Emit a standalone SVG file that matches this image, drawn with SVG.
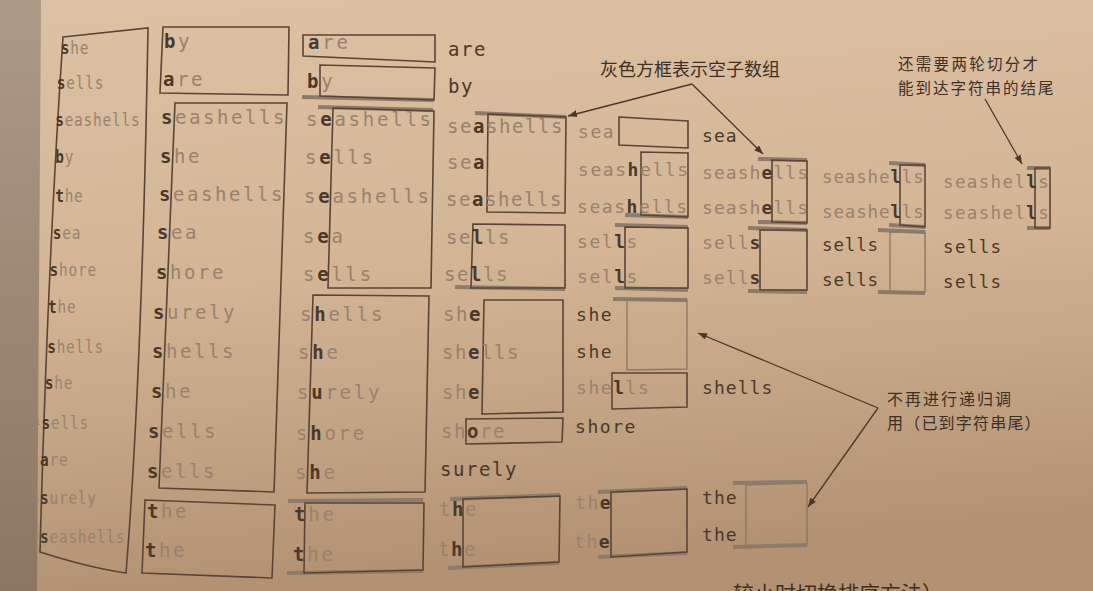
<svg xmlns="http://www.w3.org/2000/svg" width="1093" height="591" viewBox="0 0 1093 591">
<defs>
<linearGradient id="paper" x1="0" y1="0" x2="0.15" y2="1">
<stop offset="0" stop-color="#dcc2a4"/>
<stop offset="0.5" stop-color="#d3b595"/>
<stop offset="1" stop-color="#b29272"/>
</linearGradient>
<linearGradient id="gutter" x1="0" y1="0" x2="0" y2="1">
<stop offset="0" stop-color="#ad9a86"/>
<stop offset="1" stop-color="#8c7662"/>
</linearGradient>
<marker id="ah" markerUnits="userSpaceOnUse" markerWidth="9" markerHeight="7" refX="9" refY="3.5" orient="auto">
<path d="M0,0 L9,3.5 L0,7 z" fill="#4a392b"/>
</marker>
<style>
.t{font-family:"DejaVu Sans Mono","Liberation Mono",monospace;fill:#98826e}
.b{font-weight:bold;fill:#4a392b}
.dk{fill:#4a392b}
.c0{font-size:18px;letter-spacing:1px}
.c1{font-size:19px;letter-spacing:2.56px}
.c2{font-size:19px;letter-spacing:2.76px}
.c3{font-size:19px;letter-spacing:1.56px}
.c4{font-size:18px;letter-spacing:1.56px}
.c5{font-size:18px;letter-spacing:1.06px}
.c6{font-size:17.5px;letter-spacing:0.86px}
.c7{font-size:17.5px;letter-spacing:1.36px}
.box{fill:none;stroke:#5a4535;stroke-width:1.6}
.lbox{fill:none;stroke:#8e7967;stroke-width:1.4}
.bar{stroke:#8d7b6b;stroke-width:4;fill:none}
.note{font-family:"Noto Sans CJK SC","Noto Sans",sans-serif;fill:#3e3025}
.conn{fill:none;stroke:#4a392b;stroke-width:1.3}
</style>
</defs>
<rect x="0" y="0" width="1093" height="591" fill="url(#paper)"/>
<polygon points="0,0 41,0 37,591 0,591" fill="url(#gutter)"/>

<g id="col0">
<path class="box" d="M63,37 L148,28 C145,200 140,400 126,573 C98,569 68,561 40,552 C44,400 52,200 63,37 Z"/>
<g transform="scale(0.8,1)">
<text class="t c0" x="76" y="54"><tspan class="b">s</tspan>he</text>
<text class="t c0" x="71" y="89"><tspan class="b">s</tspan>ells</text>
<text class="t c0" x="69" y="126"><tspan class="b">s</tspan>eashells</text>
<text class="t c0" x="69" y="163"><tspan class="b">b</tspan>y</text>
<text class="t c0" x="69" y="202"><tspan class="b">t</tspan>he</text>
<text class="t c0" x="66" y="239"><tspan class="b">s</tspan>ea</text>
<text class="t c0" x="62" y="276"><tspan class="b">s</tspan>hore</text>
<text class="t c0" x="60" y="313"><tspan class="b">t</tspan>he</text>
<text class="t c0" x="59" y="353"><tspan class="b">s</tspan>hells</text>
<text class="t c0" x="56" y="389"><tspan class="b">s</tspan>he</text>
<text class="t c0" x="52" y="429"><tspan class="b">s</tspan>ells</text>
<text class="t c0" x="50" y="466"><tspan class="b">a</tspan>re</text>
<text class="t c0" x="50" y="504"><tspan class="b">s</tspan>urely</text>
<text class="t c0" x="50" y="543"><tspan class="b">s</tspan>eashells</text>
</g>
<text class="t" x="35" y="425" font-size="9">1</text>
<text class="t" x="34" y="462" font-size="9">1</text>
<text class="t" x="34" y="500" font-size="9">1</text>
<text class="t" x="34" y="538" font-size="9">1</text>
</g>

<g id="col1">
<polygon class="box" points="163,27 289,27 288,95 160,93"/>
<polygon class="box" points="175,103 287,103 274,492 159,488"/>
<polygon class="box" points="145,500 275,505 272,578 142,573"/>
<text class="t c1" x="164" y="48"><tspan class="b">b</tspan>y</text>
<text class="t c1" x="163" y="86"><tspan class="b">a</tspan>re</text>
<text class="t c1" x="161" y="124"><tspan class="b">s</tspan>eashells</text>
<text class="t c1" x="160" y="163"><tspan class="b">s</tspan>he</text>
<text class="t c1" x="159" y="201"><tspan class="b">s</tspan>eashells</text>
<text class="t c1" x="157" y="239"><tspan class="b">s</tspan>ea</text>
<text class="t c1" x="156" y="279"><tspan class="b">s</tspan>hore</text>
<text class="t c1" x="153" y="319"><tspan class="b">s</tspan>urely</text>
<text class="t c1" x="152" y="358"><tspan class="b">s</tspan>hells</text>
<text class="t c1" x="151" y="398"><tspan class="b">s</tspan>he</text>
<text class="t c1" x="148" y="438"><tspan class="b">s</tspan>ells</text>
<text class="t c1" x="147" y="478"><tspan class="b">s</tspan>ells</text>
<text class="t c1" x="147" y="518"><tspan class="b">t</tspan>he</text>
<text class="t c1" x="145" y="557"><tspan class="b">t</tspan>he</text>
</g>

<g id="col2">
<line class="bar" x1="302" y1="97" x2="434" y2="100"/>
<line class="bar" x1="318" y1="107" x2="433" y2="110"/>
<line class="bar" x1="288" y1="501" x2="423" y2="500"/>
<line class="bar" x1="287" y1="573" x2="423" y2="571"/>
<polygon class="box" points="303,35 435,35 435,62 303,56"/>
<polygon class="box" points="320,65 435,68 434,100 320,96"/>
<polygon class="box" points="333,108 434,111 431,288 328,288"/>
<polygon class="box" points="313,295 429,296 425,492 307,493"/>
<polygon class="box" points="305,503 424,503 423,570 304,573"/>
<text class="t c2" x="308" y="49"><tspan class="b">a</tspan>re</text>
<text class="t c2" x="307" y="88"><tspan class="b">b</tspan>y</text>
<text class="t c2" x="306" y="126">s<tspan class="b">e</tspan>ashells</text>
<text class="t c2" x="305" y="164">s<tspan class="b">e</tspan>lls</text>
<text class="t c2" x="304" y="203">s<tspan class="b">e</tspan>ashells</text>
<text class="t c2" x="303" y="243">s<tspan class="b">e</tspan>a</text>
<text class="t c2" x="303" y="281">s<tspan class="b">e</tspan>lls</text>
<text class="t c2" x="300" y="321">s<tspan class="b">h</tspan>ells</text>
<text class="t c2" x="298" y="359">s<tspan class="b">h</tspan>e</text>
<text class="t c2" x="297" y="399">s<tspan class="b">u</tspan>rely</text>
<text class="t c2" x="296" y="440">s<tspan class="b">h</tspan>ore</text>
<text class="t c2" x="295" y="479">s<tspan class="b">h</tspan>e</text>
<text class="t c2" x="294" y="521"><tspan class="b">t</tspan>he</text>
<text class="t c2" x="293" y="561"><tspan class="b">t</tspan>he</text>
</g>

<g id="col3">
<line class="bar" x1="475" y1="113" x2="566" y2="117"/>
<line class="bar" x1="455" y1="287" x2="565" y2="289"/>
<line class="bar" x1="450" y1="499" x2="560" y2="495"/>
<line class="bar" x1="448" y1="568" x2="559" y2="563"/>
<polygon class="box" points="488,114 566,117 565,213 487,212"/>
<polygon class="box" points="473,224 565,225 565,288 471,288"/>
<polygon class="box" points="484,300 563,300 563,412 482,414"/>
<polygon class="box" points="466,419 563,418 562,442 466,444"/>
<polygon class="box" points="463,499 560,496 559,562 463,567"/>
<text class="t c3 dk" x="448" y="56">are</text>
<text class="t c3 dk" x="448" y="93">by</text>
<text class="t c3" x="447" y="133">se<tspan class="b">a</tspan>shells</text>
<text class="t c3" x="447" y="169">se<tspan class="b">a</tspan></text>
<text class="t c3" x="446" y="206">se<tspan class="b">a</tspan>shells</text>
<text class="t c3" x="446" y="244">se<tspan class="b">l</tspan>ls</text>
<text class="t c3" x="444" y="281">se<tspan class="b">l</tspan>ls</text>
<text class="t c3" x="443" y="321">sh<tspan class="b">e</tspan></text>
<text class="t c3" x="442" y="359">sh<tspan class="b">e</tspan>lls</text>
<text class="t c3" x="442" y="399">sh<tspan class="b">e</tspan></text>
<text class="t c3" x="441" y="438">sh<tspan class="b">o</tspan>re</text>
<text class="t c3 dk" x="440" y="476">surely</text>
<text class="t c3" x="439" y="516">t<tspan class="b">h</tspan>e</text>
<text class="t c3" x="438" y="556">t<tspan class="b">h</tspan>e</text>
</g>

<g id="col4">
<line class="bar" x1="625" y1="215" x2="688" y2="217"/>
<line class="bar" x1="615" y1="225" x2="688" y2="227"/>
<line class="bar" x1="615" y1="288" x2="688" y2="290"/>
<line class="bar" x1="613" y1="299" x2="687" y2="300"/>
<line class="bar" x1="598" y1="492" x2="687" y2="488"/>
<line class="bar" x1="598" y1="557" x2="687" y2="553"/>
<polygon class="box" points="619,117 688,121 688,148 619,145"/>
<polygon class="box" points="641,152 688,153 688,217 641,215"/>
<polygon class="box" points="625,227 688,228 688,288 625,288"/>
<polygon class="lbox" points="627,300 687,300 687,369 627,370"/>
<polygon class="box" points="612,373 687,373 687,407 612,409"/>
<polygon class="box" points="611,492 687,489 687,552 611,557"/>
<text class="t c4" x="578" y="138">sea</text>
<text class="t c4" x="578" y="176">seas<tspan class="b">h</tspan>ells</text>
<text class="t c4" x="577" y="213">seas<tspan class="b">h</tspan>ells</text>
<text class="t c4" x="577" y="248">sel<tspan class="b">l</tspan>s</text>
<text class="t c4" x="577" y="283">sel<tspan class="b">l</tspan>s</text>
<text class="t c4 dk" x="576" y="321">she</text>
<text class="t c4 dk" x="576" y="358">she</text>
<text class="t c4" x="576" y="394">she<tspan class="b">l</tspan>ls</text>
<text class="t c4 dk" x="575" y="433">shore</text>
<text class="t c4" x="575" y="509">th<tspan class="b">e</tspan></text>
<text class="t c4" x="574" y="548">th<tspan class="b">e</tspan></text>
</g>

<g id="col5">
<line class="bar" x1="758" y1="159" x2="807" y2="160"/>
<line class="bar" x1="758" y1="222" x2="807" y2="223"/>
<line class="bar" x1="748" y1="228" x2="807" y2="230"/>
<line class="bar" x1="748" y1="291" x2="807" y2="292"/>
<line class="bar" x1="733" y1="483" x2="807" y2="482"/>
<line class="bar" x1="733" y1="547" x2="807" y2="545"/>
<polygon class="box" points="772,160 807,161 807,223 772,222"/>
<polygon class="box" points="760,230 807,230 807,290 760,290"/>
<polygon class="lbox" points="746,485 807,483 807,545 746,547"/>
<text class="t c5 dk" x="702" y="142">sea</text>
<text class="t c5" x="702" y="179">seash<tspan class="b">e</tspan>lls</text>
<text class="t c5" x="702" y="214">seash<tspan class="b">e</tspan>lls</text>
<text class="t c5" x="702" y="249">sell<tspan class="b">s</tspan></text>
<text class="t c5" x="702" y="284">sell<tspan class="b">s</tspan></text>
<text class="t c5 dk" x="702" y="394">shells</text>
<text class="t c5 dk" x="702" y="504">the</text>
<text class="t c5 dk" x="702" y="541">the</text>
</g>

<g id="col6">
<line class="bar" x1="889" y1="163" x2="925" y2="165"/>
<line class="bar" x1="889" y1="225" x2="925" y2="227"/>
<line class="bar" x1="878" y1="230" x2="925" y2="232"/>
<line class="bar" x1="878" y1="292" x2="925" y2="293"/>
<polygon class="box" points="900,165 925,165 925,227 900,225"/>
<polygon class="lbox" points="890,232 925,232 925,292 890,292"/>
<text class="t c6" x="822" y="183">seashe<tspan class="b">l</tspan>ls</text>
<text class="t c6" x="822" y="218">seashe<tspan class="b">l</tspan>ls</text>
<text class="t c6 dk" x="822" y="251">sells</text>
<text class="t c6 dk" x="822" y="286">sells</text>
</g>

<g id="col7">
<line class="bar" x1="1027" y1="168" x2="1050" y2="168"/>
<line class="bar" x1="1027" y1="228" x2="1050" y2="228"/>
<polygon class="box" points="1035,168 1050,168 1050,228 1035,228"/>
<text class="t c7" x="943" y="188">seashel<tspan class="b">l</tspan>s</text>
<text class="t c7" x="943" y="219">seashel<tspan class="b">l</tspan>s</text>
<text class="t c7 dk" x="943" y="253">sells</text>
<text class="t c7 dk" x="943" y="288">sells</text>
</g>

<g id="notes">
<text class="note" x="600" y="76" font-size="18">灰色方框表示空子数组</text>
<text class="note" x="898" y="70" font-size="15.5" letter-spacing="2.3">还需要两轮切分才</text>
<text class="note" x="898" y="94" font-size="15.5" letter-spacing="2">能到达字符串的结尾</text>
<text class="note" x="887" y="405" font-size="16" letter-spacing="2">不再进行递归调</text>
<text class="note" x="887" y="429" font-size="16" letter-spacing="1.2">用（已到字符串尾）</text>
<text class="note" x="733" y="601" font-size="21">较小时切换排序方法）</text>
</g>

<g id="connectors">
<line class="conn" x1="692" y1="84" x2="568" y2="116" marker-end="url(#ah)"/>
<line class="conn" x1="692" y1="84" x2="763" y2="154" marker-end="url(#ah)"/>
<line class="conn" x1="985" y1="99" x2="1022" y2="164" marker-end="url(#ah)"/>
<line class="conn" x1="878" y1="408" x2="698" y2="333" marker-end="url(#ah)"/>
<line class="conn" x1="878" y1="408" x2="808" y2="507" marker-end="url(#ah)"/>
</g>
</svg>
